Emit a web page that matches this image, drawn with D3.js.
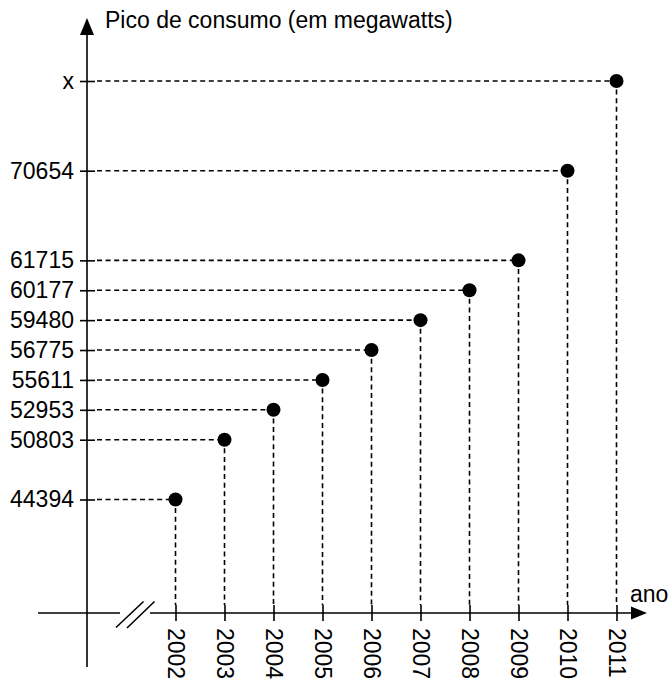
<!DOCTYPE html>
<html>
<head>
<meta charset="utf-8">
<script src="https://cdn.jsdelivr.net/npm/d3@7/dist/d3.min.js"></script>
<style>
  html, body { margin: 0; padding: 0; background: #fff; }
  svg { display: block; }
  text { font-family: "Liberation Sans", Arial, sans-serif; fill: #000; }
</style>
</head>
<body>
<script>
// ---- data ----
const years = ["2002", "2003", "2004", "2005", "2006", "2007", "2008", "2009", "2010", "2011"];
const peakLabels = ["44394", "50803", "52953", "55611", "56775", "59480", "60177", "61715", "70654", "x"];
// order of the (not-to-scale) vertical axis, blanks are empty steps between labels
const yAxisSlots = ["44394", "_a", "50803", "52953", "55611", "56775", "59480", "60177", "61715", "_b", "_c", "70654", "_d", "_e", "x"];
const yTitle = "Pico de consumo (em megawatts)";
const xTitle = "ano";

const data = years.map((yr, i) => ({ year: yr, label: peakLabels[i] }));

// ---- layout ----
const W = 671, H = 680;
const axisX = 87;      // y axis position
const axisY = 613;     // x axis position
const fontSize = 23;

const svg = d3.select("body").append("svg").attr("width", W).attr("height", H);

const x = d3.scalePoint().domain(years).range([175.5, 616.5]);
const y = d3.scalePoint().domain(yAxisSlots).range([499.5, 81]);

// ---- dashed guide lines ----
const guides = svg.append("g")
  .attr("stroke", "#000").attr("stroke-width", 1.6)
  .attr("stroke-dasharray", "5,3.6").attr("fill", "none");

guides.selectAll("line.h").data(data).join("line")
  .attr("class", "h")
  .attr("x1", axisX + 10).attr("x2", d => x(d.year))
  .attr("y1", d => y(d.label)).attr("y2", d => y(d.label));

guides.selectAll("line.v").data(data).join("line")
  .attr("class", "v")
  .attr("x1", d => x(d.year)).attr("x2", d => x(d.year))
  .attr("y1", d => y(d.label)).attr("y2", axisY - 8);

// ---- axes lines ----
const axes = svg.append("g").attr("stroke", "#000").attr("stroke-width", 1.6).attr("fill", "none");
// y axis line
axes.append("line").attr("x1", axisX).attr("x2", axisX).attr("y1", 32).attr("y2", 667);
// x axis line with break
axes.append("line").attr("x1", 38).attr("x2", 120).attr("y1", axisY).attr("y2", axisY);
axes.append("line").attr("x1", 150).attr("x2", 634).attr("y1", axisY).attr("y2", axisY);
// break marks
axes.append("line").attr("x1", 116).attr("y1", 627.5).attr("x2", 143.5).attr("y2", 601.5);
axes.append("line").attr("x1", 127).attr("y1", 628).attr("x2", 154.5).attr("y2", 601.5);

// arrows
svg.append("path")
  .attr("d", `M${axisX},18 L${axisX - 7},35 L${axisX + 7},35 Z`)
  .attr("fill", "#000");
svg.append("path")
  .attr("d", `M647,${axisY} L631,${axisY - 6.5} L631,${axisY + 6.5} Z`)
  .attr("fill", "#000");

// ---- y axis ticks & labels ----
const yAxis = svg.append("g")
  .attr("transform", `translate(${axisX},0)`)
  .call(d3.axisLeft(y).tickValues(peakLabels).tickSize(7).tickPadding(6));
yAxis.select(".domain").remove();
yAxis.selectAll(".tick line").attr("x1", 8).attr("stroke", "#000").attr("stroke-width", 1.6);
yAxis.selectAll(".tick text")
  .attr("font-size", fontSize)
  .attr("font-family", "Liberation Sans, Arial, sans-serif")
  .attr("fill", "#000");

// ---- x axis ticks & labels ----
const xAxis = svg.append("g")
  .attr("transform", `translate(0,${axisY})`)
  .call(d3.axisBottom(x).tickSize(8).tickPadding(0));
xAxis.select(".domain").remove();
xAxis.selectAll(".tick line").attr("y1", -8).attr("stroke", "#000").attr("stroke-width", 1.6);
xAxis.selectAll(".tick text")
  .attr("font-size", fontSize)
  .attr("font-family", "Liberation Sans, Arial, sans-serif")
  .attr("fill", "#000")
  .attr("text-anchor", "start")
  .attr("x", 15).attr("y", 0).attr("dy", "0.36em")
  .attr("transform", "rotate(90)");

// ---- points ----
svg.append("g").selectAll("circle").data(data).join("circle")
  .attr("cx", d => x(d.year))
  .attr("cy", d => y(d.label))
  .attr("r", 7)
  .attr("fill", "#000");

// ---- titles ----
svg.append("text").attr("x", 105).attr("y", 28)
  .attr("font-size", fontSize).text(yTitle);
svg.append("text").attr("x", 630).attr("y", 602)
  .attr("font-size", fontSize).text(xTitle);
</script>
</body>
</html>
